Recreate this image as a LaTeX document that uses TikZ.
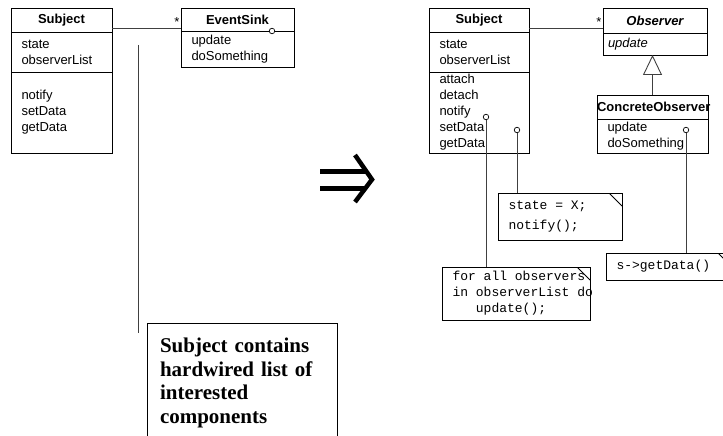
\documentclass[tikz,border=0pt]{standalone}
\usepackage{fontspec}
\setmainfont{Liberation Sans}
\setmonofont{Liberation Mono}
\newfontfamily\notefont{Liberation Serif}
\usetikzlibrary{positioning,arrows.meta}
\newcommand\ttgap{\hspace*{0.6em}}

\begin{document}
\begin{tikzpicture}[x=1pt, y=-1pt,
    every node/.append style={font=\fontsize{13}{16}\selectfont, outer sep=0pt},
    clshead/.style={draw, line width=0.8pt, inner sep=0pt, align=center, anchor=north west,
      font=\fontsize{13}{16}\selectfont\bfseries},
    clsbody/.style={draw, line width=0.8pt, inner xsep=10.5pt, inner ysep=0pt, align=left},
    codenote/.style={draw, line width=0.8pt, inner xsep=10.5pt, inner ysep=0pt, align=left,
      anchor=north west, font=\fontsize{13}{16}\selectfont\ttfamily,
      path picture={\draw[line width=0.8pt] ([xshift=-13pt]path picture bounding box.north east)
        -- ([yshift=-13pt]path picture bounding box.north east);}},
    dot/.style={circle, draw, fill=white, inner sep=0pt, minimum size=5.5pt, line width=0.7pt},
    wire/.style={draw=black!75, line width=0.9pt}
  ]
  \useasboundingbox (0,0) rectangle (723,436);
  \clip (0,0) rectangle (723,436);
  % Left: hardwired version
  \node[clshead, text width=101pt, minimum height=24pt] (subjA) at (11,8) {Subject};
  \node[clsbody, text width=80pt, minimum height=40pt, below=0pt of subjA] (subjAattr) {state\\observerList};
  \node[clsbody, text width=80pt, minimum height=81pt, below=0pt of subjAattr] (subjAops) {notify\\setData\\getData};
  %
  \node[clshead, text width=113pt, minimum height=23pt] (sink) at (181,8) {EventSink};
  \node[clsbody, text width=92pt, minimum height=36pt, below=0pt of sink] (sinkops) {update\\doSomething};
  %
  \draw[wire] ([yshift=4pt]subjA.south east) -- ([yshift=3pt]sink.south west)
    node[pos=1, above left, inner sep=1.5pt] {*};
  \node[dot] (sinkDot) at (272,31) {};
  %
  \coordinate (hookTop) at (138.5,45);
  \coordinate (hookEnd) at (138.5,333);
  \draw[wire] (hookTop) -- (hookEnd);
  \node[draw, line width=0.8pt, anchor=north west, text width=164pt, inner xsep=13pt, inner ysep=15pt,
    align=left, font=\notefont\bfseries\fontsize{21}{23.5}\selectfont] (wiredNote) at (147,323)
    {Subject contains\\hardwired list of\\interested\\components};
  % Implies
  \draw[line width=5pt] (320,171.5) -- (366,171.5) (320,188) -- (366,188);
  \draw[line width=4.5pt, line join=miter] (355,155) -- (372,179.5) -- (355,202);
  % Right: observer version
  \node[clshead, text width=100pt, minimum height=24pt] (subjB) at (429,8) {Subject};
  \node[clsbody, text width=79pt, minimum height=40pt, below=0pt of subjB] (subjBattr) {state\\observerList};
  \node[clsbody, text width=79pt, minimum height=81pt, below=0pt of subjBattr] (subjBops)
    {attach\\detach\\notify\\setData\\getData};
  %
  \node[clshead, text width=104pt, minimum height=25pt, font=\fontsize{13}{16}\selectfont\bfseries\itshape]
    (obs) at (603,8) {Observer};
  \node[clsbody, inner xsep=5pt, text width=94pt, minimum height=22pt, below=0pt of obs,
    font=\fontsize{13}{16}\selectfont\itshape] (obsops) {update};
  %
  \node[clshead, text width=111pt, minimum height=24pt] (conc) at (597,95) {\mbox{ConcreteObserver}};
  \node[clsbody, text width=90pt, minimum height=34pt, below=0pt of conc] (concops) {update\\doSomething};
  %
  \draw[wire] ([yshift=4pt]subjB.south east) -- ([yshift=5pt]obs.south west)
    node[pos=1, above left, inner sep=1.5pt] {*};
  \draw[wire, -{Triangle[open, width=19pt, length=20pt, fill=white]}] (conc.north) -- (conc.north |- obsops.south);
  % Notes
  \node[codenote, text width=103pt, minimum height=47pt] (stateNote) at (498,193)
    {\mbox{state\ttgap=\ttgap X;}\\[4pt]notify();};
  \node[codenote, text width=127pt, minimum height=53pt] (forNote) at (442,267)
    {\mbox{for\ttgap all\ttgap observers}\\\mbox{in\ttgap observerList\ttgap do}\\\ttgap\ttgap\ttgap update();};
  \node[codenote, text width=104pt, minimum height=27pt] (getNote) at (606,253) {s->getData()};
  %
  \node[dot] (nfyDot) at (486,117) {};
  \node[dot] (setDot) at (517,130) {};
  \node[dot] (updDot) at (686,130) {};
  \draw[wire] (nfyDot.south) -- (nfyDot.south |- forNote.north);
  \draw[wire] (setDot.south) -- (setDot.south |- stateNote.north);
  \draw[wire] (updDot.south) -- (updDot.south |- getNote.north);
\end{tikzpicture}
\end{document}
